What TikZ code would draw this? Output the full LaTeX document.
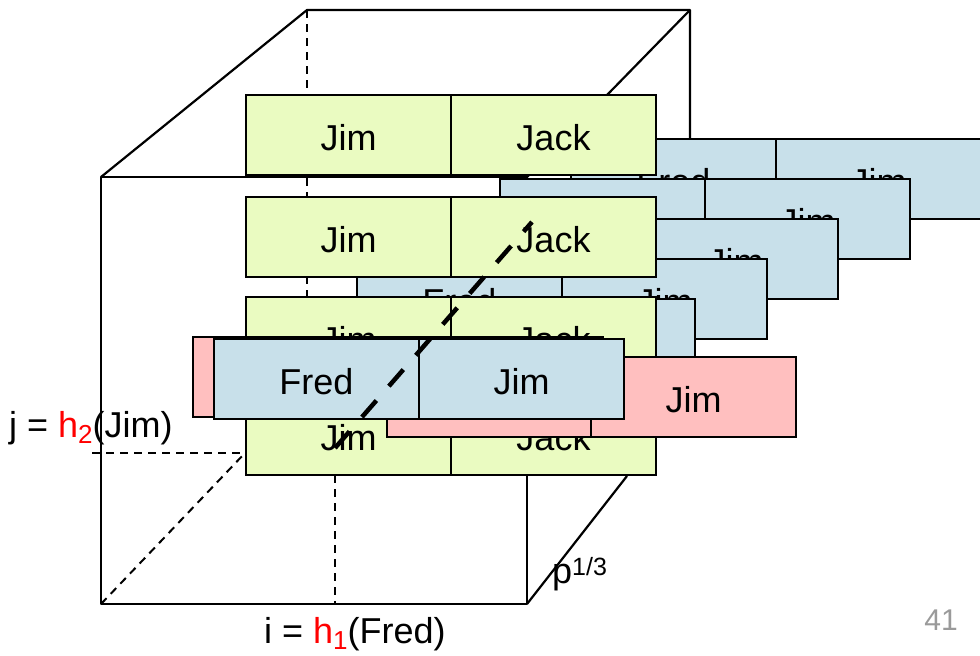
\documentclass[tikz,border=0pt]{standalone}
\usepackage{fontspec}
\setmainfont{Liberation Sans}
\definecolor{gfill}{HTML}{EAFBC1}
\definecolor{bfill}{HTML}{C8E0EA}
\definecolor{pfill}{HTML}{FFBFBF}
\definecolor{pagegray}{HTML}{9A9A9A}
\newcommand{\mysub}[1]{\raisebox{-6pt}{\fontsize{26}{26}\selectfont #1}}
\newcommand{\mysup}[1]{\raisebox{8pt}{\fontsize{25}{25}\selectfont #1}}
\begin{document}
\begin{tikzpicture}[x=1pt,y=-1pt,
  cell/.style={draw=black, line width=2.2pt, minimum width=205pt, minimum height=80pt,
    anchor=north west, inner sep=0pt, outer sep=0pt,
    font=\fontsize{36}{40}\selectfont, text height=31pt, text depth=0pt},
  gcell/.style={cell, fill=gfill},
  bcell/.style={cell, fill=bfill},
  pcell/.style={cell, fill=pfill},
  cubeline/.style={line width=2.2pt, line join=round},
  hidden/.style={line width=2pt, dash pattern=on 8pt off 6pt},
  bigdash/.style={line width=4.5pt, dash pattern=on 22pt off 19pt},
  lab/.style={anchor=base west, inner sep=0pt, font=\fontsize{36}{40}\selectfont}
]
\fill[white] (0,0) rectangle (980,656);
\useasboundingbox (0,0) rectangle (980,656);

% cube corners
\coordinate (FTL) at (101,177);
\coordinate (FTR) at (527,177);
\coordinate (FBR) at (527,604);
\coordinate (FBL) at (101,604);
\coordinate (BTL) at (307,10);
\coordinate (BTR) at (690,10);
\coordinate (BRM) at (690,140);
\coordinate (BBR) at (627,476);
\coordinate (BLD) at (307,395);
\coordinate (BBL) at (245,453);
\coordinate (JT) at (92,453);
\coordinate (IT) at (335,475);
\coordinate (IB) at (335,604);

% hidden (dashed) cube lines
\draw[hidden] (BTL) -- (BLD);
\draw[hidden] (FBL) -- (BBL);
\draw[hidden] (JT) -- (BBL);
\draw[hidden] (IT) -- (IB);

% visible cube lines
\draw[cubeline] (FTL) -- (BTL) -- (BTR) -- (BRM);
\draw[cubeline] (FTR) -- (BTR);
\draw[cubeline] (FTL) -- (FTR) -- (FBR) -- (FBL) -- cycle;
\draw[cubeline] (FBR) -- (BBR);

% blue rows, back to front (A..E)
\node[bcell] (bA1) at (571,139) {Fred};
\node[bcell] (bA2) at (776,139) {Jim};
\node[bcell] (bB1) at (500,179) {};
\node[bcell] (bB2) at (705,179) {Jim};
\node[bcell] (bC1) at (428,219) {};
\node[bcell] (bC2) at (633,219) {Jim};
\node[bcell] (bD1) at (357,259) {Fred};
\node[bcell] (bD2) at (562,259) {Jim};
\node[bcell] (bE1) at (285,299) {};
\node[bcell] (bE2) at (490,299) {};

% green rows
\node[gcell] (g11) at (246,95) {Jim};
\node[gcell] (g12) at (451,95) {Jack};
\node[gcell] (g21) at (246,197) {Jim};
\node[gcell] (g22) at (451,197) {Jack};
\node[gcell] (g31) at (246,297) {Jim};
\node[gcell] (g32) at (451,297) {Jack};
\node[gcell] (g41) at (246,395) {Jim};
\node[gcell] (g42) at (451,395) {Jack};

% pink rows
\node[pcell] (p11) at (193,337) {};
\node[pcell] (p12) at (398,337) {};
\node[pcell] (p21) at (387,357) {};
\node[pcell] (p22) at (591,357) {Jim};

% front blue row
\node[bcell] (bF1) at (214,339) {Fred};
\node[bcell] (bF2) at (419,339) {Jim};

% thick dashed line
\coordinate (ds) at (335,448);
\coordinate (de) at (532,222);
\draw[bigdash] (ds) -- (de);

% labels
\node[lab] (jlab) at (9,437) {j = \textcolor{red}{h\mysub{2}}(Jim)};
\node[lab] (ilab) at (264,643) {i = \textcolor{red}{h\mysub{1}}(Fred)};
\node[lab] (plab) at (552,583) {p\mysup{1/3}};
\node[anchor=base east, inner sep=0pt, text=pagegray, font=\fontsize{30}{34}\selectfont] (page) at (958,630) {41};
\end{tikzpicture}
\end{document}
